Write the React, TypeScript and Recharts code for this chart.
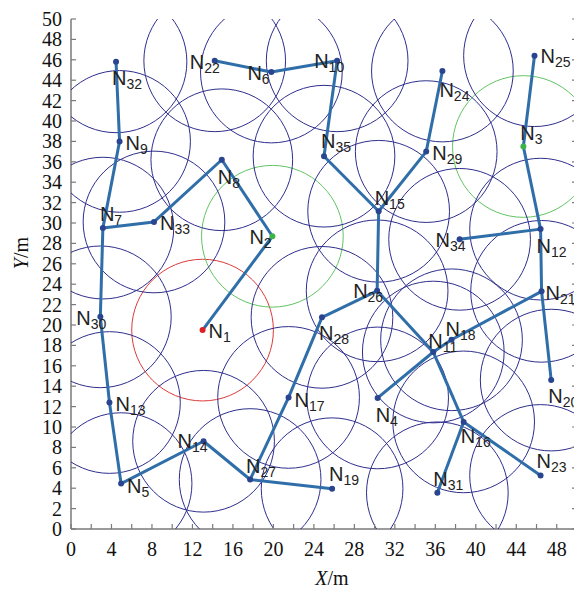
import { ScatterChart, Scatter, XAxis, YAxis } from "recharts"

const nodeNames = [
  "N1", "N2", "N3", "N4", "N5", "N6", "N7", "N8", "N9", "N10",
  "N11", "N12", "N13", "N14", "N15", "N16", "N17", "N18", "N19", "N20",
  "N21", "N22", "N23", "N24", "N25", "N26", "N27", "N28", "N29", "N30",
  "N31", "N32", "N33", "N34", "N35",
]
const nodeX = [
  13.0, 19.9, 44.7, 30.3, 4.95, 19.8, 3.15, 14.9, 4.8, 26.3,
  35.8, 46.4, 3.8, 13.1, 30.4, 38.8, 21.5, 37.6, 25.8, 47.45,
  46.5, 14.2, 46.4, 36.7, 45.8, 30.25, 17.7, 24.8, 35.1, 2.9,
  36.2, 4.45, 8.2, 38.4, 25.0,
]
const nodeY = [
  19.5, 28.7, 37.5, 12.85, 4.45, 44.8, 29.5, 36.2, 38.0, 45.9,
  17.35, 29.4, 12.4, 8.6, 31.15, 10.5, 12.9, 18.55, 3.95, 14.6,
  23.3, 45.9, 5.25, 44.9, 46.4, 23.35, 4.85, 20.75, 37.0, 20.8,
  3.55, 45.8, 30.1, 28.4, 36.55,
]
// spanning tree between nodes
const edges = [
  ["N32", "N9"], ["N9", "N7"], ["N7", "N30"], ["N30", "N13"], ["N13", "N5"],
  ["N5", "N14"], ["N14", "N27"], ["N27", "N19"], ["N27", "N17"], ["N17", "N28"],
  ["N28", "N26"], ["N26", "N15"], ["N15", "N35"], ["N35", "N10"], ["N10", "N6"],
  ["N6", "N22"], ["N15", "N29"], ["N29", "N24"], ["N26", "N11"], ["N11", "N16"],
  ["N16", "N31"], ["N16", "N23"], ["N4", "N11"], ["N11", "N18"], ["N18", "N21"],
  ["N21", "N12"], ["N21", "N20"], ["N12", "N34"], ["N12", "N3"], ["N3", "N25"],
  ["N7", "N33"], ["N33", "N8"], ["N8", "N2"], ["N2", "N1"],
]
const radius = 7
const xTicks = [0, 2, 4, 6, 8, 10, 12, 14, 16, 18, 20, 22, 24, 26, 28, 30, 32, 34, 36, 38, 40, 42, 44, 46, 48, 50]
const yTicks = xTicks

// label placement (px from the dot to the "N" baseline start)
const labelOffset: Record<string, [number, number]> = {
  N1: [6, 8], N2: [-23, 8], N3: [-3, -7], N4: [-2, 24], N5: [6, 9],
  N6: [-24, 8], N7: [-3, -7], N8: [-4, 24], N9: [6, 9], N10: [-23, 7],
  N11: [-5, -4], N12: [-4, 24], N13: [6, 8], N14: [-26, 7], N15: [-4, -6],
  N16: [-3, 21], N17: [6, 10], N18: [-6, -4], N19: [-3, -8], N20: [-3, 23],
  N21: [4, 9], N22: [-25, 8], N23: [-4, -7], N24: [-3, 26], N25: [6, 7],
  N26: [-24, 7], N27: [-4, -7], N28: [-3, 23], N29: [6, 8], N30: [-24, 8],
  N31: [-4, -7], N32: [-4, 23], N33: [6, 8], N34: [-24, 8], N35: [-3, -8],
}

// chart is pulled to the page corner so it covers the whole window
const W = 582
const H = 590
const MARGIN = { top: 19, right: 4, bottom: 0, left: 0 }
const Y_W = 71
const R_W = 1
const X_H = 61
const PX_PER_M = (W - MARGIN.left - MARGIN.right - Y_W - R_W) / 50

const NAVY = "#2e2e8e"
const LINE = "#2f6ea8"
const FRAME = "#7a7a7a"
const SERIF = "'Liberation Serif', 'Times New Roman', serif"
const SANS = "'Liberation Sans', Arial, sans-serif"

const ringColor = (n: string) => (n === "N1" ? "#dd3a3a" : n === "N2" || n === "N3" ? "#62c462" : NAVY)
const dotColor = (n: string) => (n === "N1" ? "#e02020" : n === "N2" || n === "N3" ? "#3cb44a" : "#2a4590")

const nodes = nodeNames.map((name, i) => ({ name, x: nodeX[i], y: nodeY[i] }))
const byName = Object.fromEntries(nodes.map((n) => [n.name, n]))

const BottomTick = ({ x, y, payload }: any) => (
  <g>
    <line x1={x} y1={y} x2={x} y2={y - 5} stroke={FRAME} strokeWidth={1.2} />
    {payload.value % 4 === 0 && payload.value < 50 && (
      <text x={x} y={y + 27} textAnchor="middle" fontFamily={SERIF} fontSize={20} fill="#111">
        {payload.value}
      </text>
    )}
  </g>
)
const LeftTick = ({ x, y, payload }: any) => (
  <g>
    <line x1={x} y1={y} x2={x + 5} y2={y} stroke={FRAME} strokeWidth={1.2} />
    <text x={x - 9} y={y} dy="0.35em" textAnchor="end" fontFamily={SERIF} fontSize={20} fill="#111">
      {payload.value}
    </text>
  </g>
)
const TopTick = ({ x, y }: any) => <line x1={x} y1={y} x2={x} y2={y + 5} stroke={FRAME} strokeWidth={1.2} />
const RightTick = ({ x, y }: any) => <line x1={x} y1={y} x2={x - 5} y2={y} stroke={FRAME} strokeWidth={1.2} />

const Ring = ({ cx, cy, payload }: any) => (
  <circle cx={cx} cy={cy} r={radius * PX_PER_M} fill="none" stroke={ringColor(payload.name)} strokeWidth={1} />
)

const NodeDot = ({ cx, cy, payload }: any) => {
  const [dx, dy] = labelOffset[payload.name] || [6, 8]
  return (
    <g>
      <circle cx={cx} cy={cy} r={3} fill={dotColor(payload.name)} />
      <text x={cx + dx} y={cy + dy} fontFamily={SANS} fontSize={20} fill="#222">
        N
        <tspan fontSize={14} dy={4}>
          {payload.name.slice(1)}
        </tspan>
      </text>
    </g>
  )
}

export default function App() {
  return (
    <div style={{ margin: "-8px 0 0 -8px", width: W, height: H }}>
      <style>{`html { overflow: hidden; }`}</style>
      <ScatterChart width={W} height={H} margin={MARGIN}>
        <XAxis
          dataKey="x"
          type="number"
          domain={[0, 50]}
          ticks={xTicks}
          allowDataOverflow
          height={X_H}
          tickSize={0}
          tickMargin={0}
          tickLine={false}
          axisLine={{ stroke: FRAME, strokeWidth: 1.5 }}
          tick={<BottomTick />}
          interval={0}
          label={{
            content: ({ viewBox }: any) => (
              <text x={viewBox.x + viewBox.width / 2 + 8} y={viewBox.y + 56} textAnchor="middle" fontFamily={SERIF} fontSize={20} fill="#111">
                <tspan fontStyle="italic">X</tspan>/m
              </text>
            ),
          }}
        />
        <XAxis
          xAxisId="top"
          dataKey="x"
          orientation="top"
          type="number"
          domain={[0, 50]}
          ticks={xTicks}
          height={0}
          tickSize={0}
          tickMargin={0}
          tickLine={false}
          axisLine={{ stroke: FRAME, strokeWidth: 1.5 }}
          tick={<TopTick />}
          interval={0}
        />
        <YAxis
          dataKey="y"
          type="number"
          domain={[0, 50]}
          ticks={yTicks}
          allowDataOverflow
          width={Y_W}
          tickSize={0}
          tickMargin={0}
          tickLine={false}
          axisLine={{ stroke: FRAME, strokeWidth: 1.5 }}
          tick={<LeftTick />}
          interval={0}
          label={{
            content: ({ viewBox }: any) => {
              const cx = viewBox.x + 21
              const cy = viewBox.y + 234
              return (
                <text x={cx} y={cy} transform={`rotate(-90 ${cx} ${cy})`} dy="0.35em" textAnchor="middle" fontFamily={SERIF} fontSize={20} fill="#111">
                  <tspan fontStyle="italic">Y</tspan>/m
                </text>
              )
            },
          }}
        />
        <YAxis
          yAxisId="right"
          dataKey="y"
          orientation="right"
          type="number"
          domain={[0, 50]}
          ticks={yTicks}
          width={R_W}
          tickSize={0}
          tickMargin={0}
          tickLine={false}
          axisLine={{ stroke: FRAME, strokeWidth: 1.5 }}
          tick={<RightTick />}
          interval={0}
        />

        <Scatter data={nodes} shape={<Ring />} isAnimationActive={false} />

        {edges.map(([a, b]) => (
          <Scatter
            key={a + "-" + b}
            data={[byName[a], byName[b]]}
            line={{ stroke: LINE, strokeWidth: 3 }}
            shape={() => <g />}
            isAnimationActive={false}
          />
        ))}

        <Scatter data={nodes} xAxisId="top" yAxisId="right" shape={<NodeDot />} isAnimationActive={false} />
      </ScatterChart>
    </div>
  )
}
